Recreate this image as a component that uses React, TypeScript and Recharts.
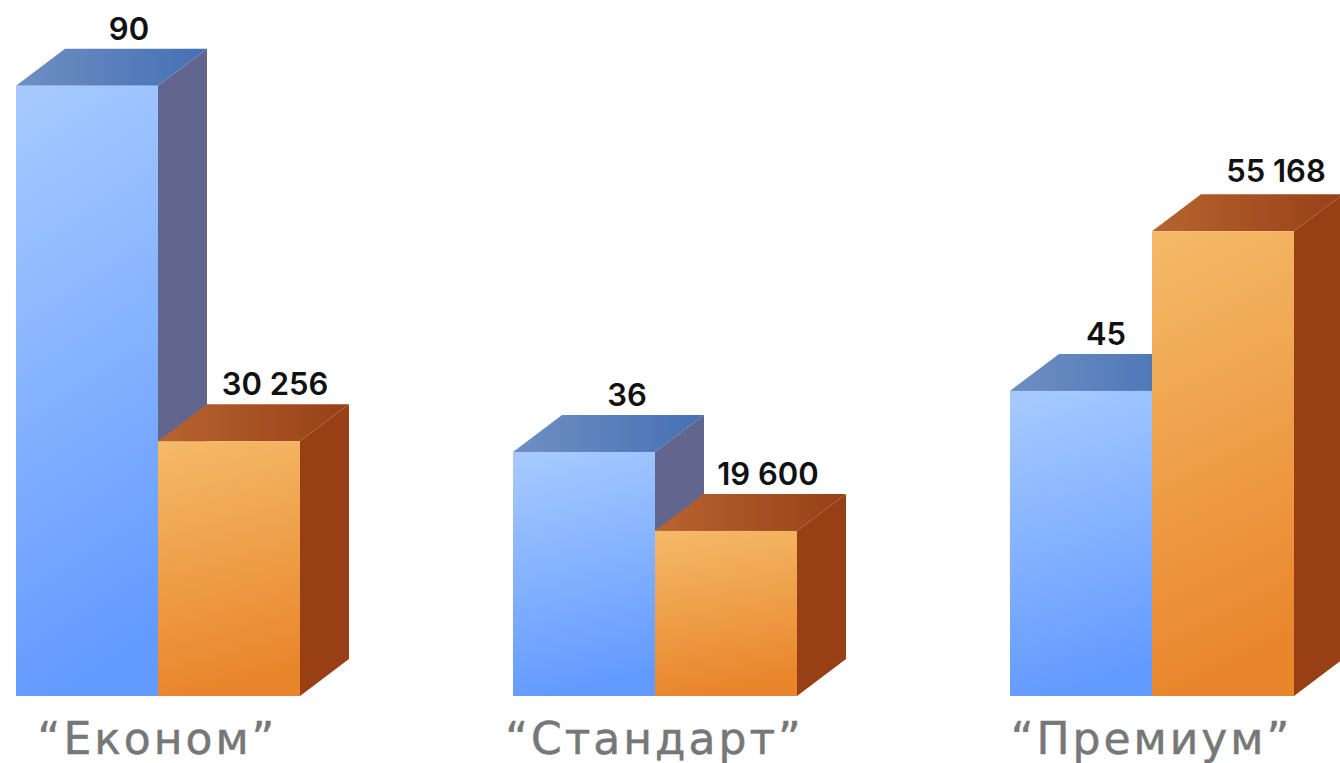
import React from 'react';
import { BarChart, Bar, XAxis, YAxis, LabelList } from 'recharts';

const categories = ['“Економ”', '“Стандарт”', '“Премиум”'];
const blueValues = [90, 36, 45];
const orangeValues = [30256, 19600, 55168];

const chartData = categories.map((name, i) => ({
  name,
  blue: blueValues[i],
  orange: orangeValues[i],
}));

const DEPTH_X = 49;
const DEPTH_Y = 37;

// label nudges per category, the labels sit off centre over the 3d top
const blueLabelShift = [42, 43, 25];
const orangeLabelShift = [46, 42, 53];
const blueLabelLift = [0, 0, 0];
const orangeLabelLift = [0, 0, 3];

const formatValue = (v: number) => String(v).replace(/\B(?=(\d{3})+$)/g, ' ');

const Box3D = ({ x, y, width, height, front, top, side }: any) => {
  const r = x + width;
  const b = y + height;
  return (
    <g>
      <polygon
        points={`${r},${y} ${r + DEPTH_X},${y - DEPTH_Y} ${r + DEPTH_X},${b - DEPTH_Y} ${r},${b}`}
        fill={side}
      />
      <polygon
        points={`${x},${y} ${x + DEPTH_X},${y - DEPTH_Y} ${r + DEPTH_X},${y - DEPTH_Y} ${r},${y}`}
        fill={top}
      />
      <rect x={x} y={y} width={width} height={height} fill={front} />
    </g>
  );
};

const ValueLabel = ({ x, y, width, value, index, shifts, lifts }: any) => (
  <text
    x={x + width / 2 + shifts[index]}
    y={y - 46 - lifts[index]}
    textAnchor="middle"
    fontFamily="Inter, sans-serif"
    fontWeight={600}
    fontSize={31}
    fill="#111"
  >
    {formatValue(value)}
  </text>
);

const CategoryTick = ({ x, y, payload }: any) => (
  <text
    x={x}
    y={y + 50}
    textAnchor="middle"
    fontFamily="'DejaVu Sans', sans-serif"
    fontSize={44}
    letterSpacing={3}
    fill="#777777"
    stroke="#777777"
    strokeWidth={0.5}
  >
    {payload.value}
  </text>
);

export default function App() {
  return (
    <div style={{ position: 'fixed', left: 0, top: 0, width: 1340, height: 763, overflow: 'hidden', background: '#fff' }}>
      <div style={{ position: 'absolute', left: -91.5, top: 1 }}>
        <BarChart
          width={1491}
          height={762}
          data={chartData}
          margin={{ top: 17, right: 0, bottom: 0, left: 0 }}
          barSize={142}
          barGap={0}
          barCategoryGap={0}
        >
          <defs>
            <linearGradient id="blueFront" x1="0.15" y1="0" x2="0.3" y2="1">
              <stop offset="0%" stopColor="#a6caff" />
              <stop offset="100%" stopColor="#639aff" />
            </linearGradient>
            <linearGradient id="blueTop" x1="0" y1="0" x2="1" y2="0">
              <stop offset="0%" stopColor="#6f8fc2" />
              <stop offset="100%" stopColor="#4570b5" />
            </linearGradient>
            <linearGradient id="orangeFront" x1="0.15" y1="0" x2="0.3" y2="1">
              <stop offset="0%" stopColor="#f4b967" />
              <stop offset="100%" stopColor="#e9852b" />
            </linearGradient>
            <linearGradient id="orangeTop" x1="0" y1="0" x2="1" y2="0">
              <stop offset="0%" stopColor="#b8642f" />
              <stop offset="100%" stopColor="#974018" />
            </linearGradient>
          </defs>
          <XAxis
            dataKey="name"
            height={67}
            axisLine={false}
            tickLine={false}
            interval={0}
            tick={<CategoryTick />}
          />
          <YAxis yAxisId="blue" hide domain={[0, 100]} />
          <YAxis yAxisId="orange" hide domain={[0, 80500]} />
          <Bar
            yAxisId="blue"
            dataKey="blue"
            isAnimationActive={false}
            shape={(p: any) => <Box3D {...p} front="url(#blueFront)" top="url(#blueTop)" side="#62668e" />}
          >
            <LabelList
              dataKey="blue"
              content={(p: any) => <ValueLabel {...p} shifts={blueLabelShift} lifts={blueLabelLift} />}
            />
          </Bar>
          <Bar
            yAxisId="orange"
            dataKey="orange"
            isAnimationActive={false}
            shape={(p: any) => <Box3D {...p} front="url(#orangeFront)" top="url(#orangeTop)" side="#983f15" />}
          >
            <LabelList
              dataKey="orange"
              content={(p: any) => <ValueLabel {...p} shifts={orangeLabelShift} lifts={orangeLabelLift} />}
            />
          </Bar>
        </BarChart>
      </div>
    </div>
  );
}
